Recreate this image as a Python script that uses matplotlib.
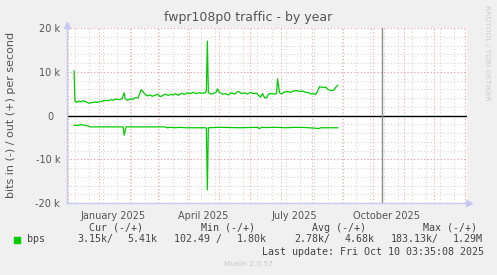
import matplotlib
matplotlib.use('Agg')
import matplotlib.pyplot as plt
import numpy as np

W, H = 497, 275

# x values are days relative to 2025-01-01
base = np.datetime64('2025-01-01')

out_days = [-25, -24, -22, -20, -18, -16, -14, -12, -10, -8, -6, -4, -2, 1, 4, 7, 9, 12, 14, 17,
            19, 21, 23, 25, 26, 28, 31, 34, 36, 39, 42, 44, 46, 48, 51, 53, 56, 58, 61, 63,
            66, 69, 71, 74, 76, 79, 82, 85, 88, 91, 94, 97, 100, 103, 106, 107, 108, 109, 111, 114,
            117, 118, 120, 123, 126, 129, 132, 135, 138, 139, 142, 145, 148, 151, 154, 157, 160, 161, 163, 165,
            167, 169, 172, 175, 177, 178, 180, 182, 185, 188, 191, 194, 197, 200, 203, 206, 209, 212, 214, 216,
            218, 220, 223, 226, 228, 231, 234, 236, 238]
out_bps = [10.2, 3.2, 3.0, 3.3, 3.1, 3.4, 3.2, 3.0, 2.8, 2.9, 3.0, 3.1, 3.0, 3.2, 3.3, 3.5, 3.4, 3.6, 3.5, 3.8,
           3.6, 3.7, 3.8, 5.2, 3.9, 3.5, 3.8, 3.7, 4.1, 4.0, 5.9, 5.4, 4.8, 4.5, 4.7, 4.4, 4.6, 4.9, 4.3, 4.5,
           4.9, 4.6, 4.8, 4.7, 5.0, 4.6, 5.1, 4.8, 5.2, 5.0, 5.3, 5.0, 5.2, 5.1, 5.2, 5.6, 17.0, 5.3, 4.9, 5.0,
           5.4, 6.1, 5.3, 4.9, 5.0, 4.7, 5.2, 4.9, 5.4, 5.5, 5.0, 5.2, 4.9, 5.3, 5.0, 5.1, 4.4, 4.2, 5.0, 4.1,
           4.0, 4.9, 5.0, 4.9, 5.0, 8.4, 5.2, 4.9, 5.4, 5.5, 5.3, 5.6, 5.7, 5.5, 5.6, 5.3, 5.2, 4.9, 5.0, 4.8,
           5.6, 6.6, 6.4, 6.5, 6.0, 5.7, 5.8, 6.4, 6.9]

in_days = [-25, -21, -19, -15, -11, -9, 24, 25, 27, 66, 68, 71, 76, 81, 86, 96, 106, 107, 108, 109,
           121, 131, 141, 158, 160, 162, 166, 176, 186, 196, 206, 216, 219, 221, 238]
in_bps = [2.2, 2.3, 2.1, 2.2, 2.4, 2.6, 2.6, 4.5, 2.6, 2.6, 2.8, 2.7, 2.8, 2.7, 2.8, 2.8, 2.8, 2.9, 17.0, 2.8,
          2.7, 2.75, 2.8, 2.7, 3.0, 2.7, 2.75, 2.7, 2.8, 2.7, 2.75, 2.9, 3.0, 2.8, 2.8]

yticks = [-20000, -10000, 0, 10000, 20000]
ytick_labels = ['-20 k', '-10 k', '0  ', '10 k', '20 k']
month_labels = ['January 2025', 'April 2025', 'July 2025', 'October 2025']
month_label_dates = ['2025-01-15', '2025-04-15', '2025-07-15', '2025-10-15']

legend_head = ['Cur (-/+)', 'Min (-/+)', 'Avg (-/+)', 'Max (-/+)']
legend_vals = ['3.15k/', '5.41k', '102.49 /', '1.80k', '2.78k/', '4.68k', '183.13k/', '1.29M']
now_date = '2025-10-10'
last_update = 'Last update: Fri Oct 10 03:35:08 2025'

green = '#00cc00'
grey_txt = '#555555'

fig = plt.figure(figsize=(W / 100, H / 100), dpi=100)
fig.patch.set_facecolor('#f0f0f0')


def fx(px):
    return px / W


def fy(py):
    return 1 - py / H


ax = fig.add_axes([fx(67), fy(203), 400 / W, 175 / H])
ax.set_facecolor('white')

xmin = np.datetime64('2024-11-30')
xmax = np.datetime64('2026-01-03')
ax.set_xlim(xmin, xmax)
ax.set_ylim(-20000, 20000)

# grid: minor every 2 weeks and 2k, major monthly and 10k
minor_x = np.arange(np.datetime64('2024-12-08'), xmax, np.timedelta64(14, 'D'))
major_x = np.arange(np.datetime64('2024-12'), np.datetime64('2026-02'), np.timedelta64(1, 'M')).astype('datetime64[D]')
dot = (0, (1, 2))
for d in minor_x:
    ax.axvline(d, color='#d6d6d6', lw=0.8, ls=dot, zorder=1)
for v in range(-18000, 20000, 2000):
    ax.axhline(v, color='#d6d6d6', lw=0.8, ls=dot, zorder=1)
for d in major_x:
    ax.axvline(d, color='#eba8a8', lw=0.8, ls=dot, zorder=1.5)
for v in yticks:
    ax.axhline(v, color='#eba8a8', lw=0.8, ls=dot, zorder=1.5)

ax.axhline(0, color='black', lw=1.0, zorder=2)
ax.axvline(np.datetime64(now_date), color='#8c8c8c', lw=1.0, zorder=2)

out_x = base + np.array(out_days).astype('timedelta64[D]')
in_x = base + np.array(in_days).astype('timedelta64[D]')
ax.plot(out_x, np.array(out_bps) * 1000, color=green, lw=0.9, zorder=3)
ax.plot(in_x, -np.array(in_bps) * 1000, color=green, lw=0.9, zorder=3)

for s in ['top', 'right']:
    ax.spines[s].set_visible(False)
for s in ['left', 'bottom']:
    ax.spines[s].set_color('#c8c8f0')
    ax.spines[s].set_linewidth(1.0)
ax.plot([1.005], [0], marker='>', color='#c8c8f0', ms=4, transform=ax.transAxes, clip_on=False)
ax.plot([0], [1.02], marker='^', color='#c8c8f0', ms=4, transform=ax.transAxes, clip_on=False)

ax.set_xticks([])
ax.set_yticks(yticks)
ax.set_yticklabels(ytick_labels)
ax.tick_params(axis='y', length=0, pad=5, labelsize=7, labelcolor=grey_txt)

for lab, d in zip(month_labels, month_label_dates):
    ax.text(np.datetime64(d), -0.074, lab, transform=ax.get_xaxis_transform(),
            ha='center', va='center', fontsize=7, color=grey_txt)

fig.text(fx(248), fy(17.5), 'fwpr108p0 traffic - by year', ha='center', va='center',
         fontsize=9, color=grey_txt)
fig.text(fx(11), fy(114.5), 'bits in (-) / out (+) per second', rotation=90,
         ha='center', va='center', fontsize=8, color=grey_txt)
fig.text(fx(487.5), fy(5), 'RRDTOOL / TOBI OETIKER', rotation=270, ha='center', va='top',
         fontsize=5.4, color='#cdcdcd')

# legend
mono = 'DejaVu Sans Mono'
fig.patches.append(plt.Rectangle((fx(14), fy(242.5)), 6 / W, 6 / H, color=green,
                                 transform=fig.transFigure, figure=fig))
fig.text(fx(26.5), fy(239.3), 'bps', ha='left', va='center', fontsize=7.2, family=mono, color='#444444')
for lab, px in zip(legend_head, [89, 201, 312, 423]):
    fig.text(fx(px), fy(227.7), lab, ha='left', va='center', fontsize=7.2, family=mono, color='#444444')
for lab, px in zip(legend_vals, [77.5, 127.5, 173.5, 236.5, 294.5, 344.5, 390.5, 452.5]):
    fig.text(fx(px), fy(239.3), lab, ha='left', va='center', fontsize=7.2, family=mono, color='#444444')
fig.text(fx(483.5), fy(251.7), last_update, ha='right', va='center', fontsize=7.2,
         family=mono, color='#444444')
fig.text(fx(248), fy(264), 'Munin 2.0.57', ha='center', va='center', fontsize=5.4, color='#c8c8c8')

fig.savefig('out.png', dpi=100, facecolor=fig.get_facecolor())
